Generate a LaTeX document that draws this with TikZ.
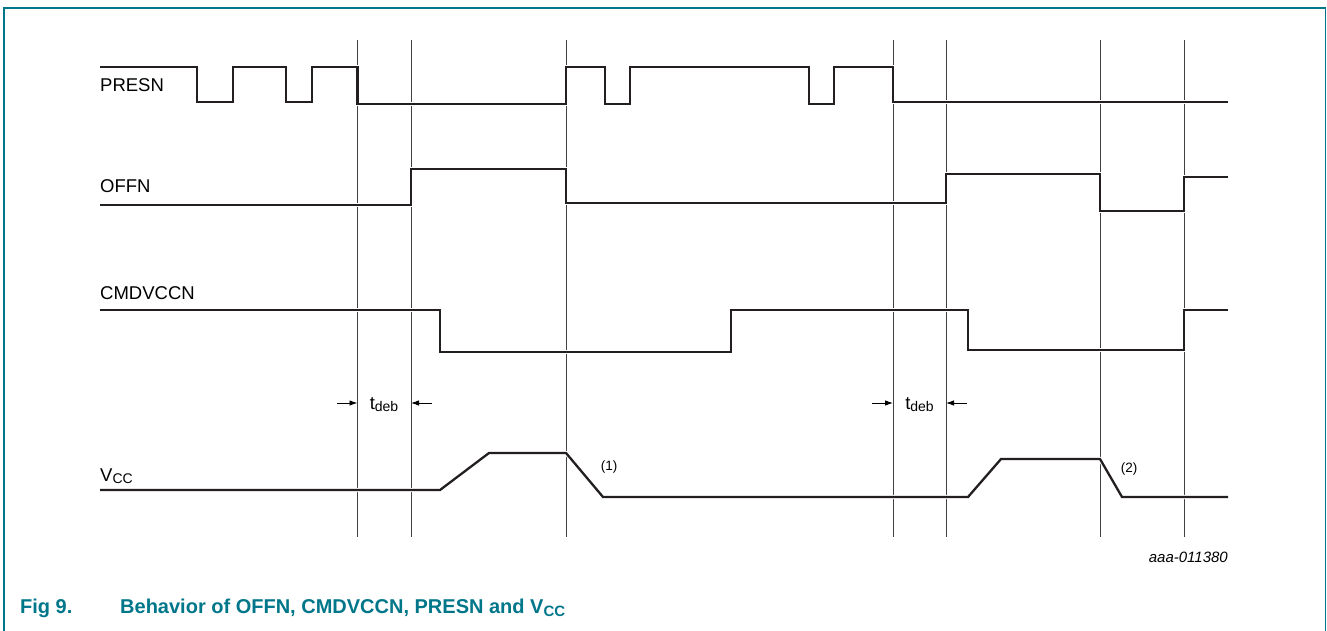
\documentclass[tikz,border=0pt]{standalone}
\usepackage{fontspec}
\setmainfont{Liberation Sans}
\usetikzlibrary{arrows.meta}
\definecolor{nxpteal}{RGB}{0,118,138}
\definecolor{wave}{RGB}{35,31,32}
\tikzset{
  sig/.style={draw=wave, line width=2.3pt, line join=miter,
     preaction={draw=white, line width=4.2pt}},
  guide/.style={draw=black!75, line width=0.8pt},
  lbl/.style={anchor=base west, inner sep=0pt, font=\fontsize{18.5}{20}\selectfont},
  note/.style={inner sep=0pt, font=\fontsize{13.5}{15}\selectfont},
  tarrow/.style={draw=black, line width=0.9pt, -{Latex[length=8pt,width=5.5pt]}},
  frame/.style={draw=nxpteal, line width=1.5pt},
}
\begin{document}
\begin{tikzpicture}[x=1pt,y=-1pt]
\useasboundingbox (0,0) rectangle (1327,631);
% frame
\draw[frame] (4,631) -- (4,8) -- (1325.5,8) -- (1325.5,631);
% guide lines
\foreach \gx in {357.5,411,566,893,946,1100,1184}{
  \draw[guide] (\gx,40) -- (\gx,537);
}
% labels
\node[lbl] (presn) at (100,92) {PRESN};
\node[lbl] (offn) at (100,193) {OFFN};
\node[lbl] (cmd) at (100,299) {CMDVCCN};
\node[lbl] (vcc) at (100,481) {V\raisebox{-0.28ex}{\fontsize{14}{15}\selectfont CC}};
% PRESN
\draw[sig] (100,67) -- (197,67) -- (197,102) -- (233,102) -- (233,67) -- (286,67)
  -- (286,102) -- (312,102) -- (312,67) -- (357.5,67) -- (357.5,104) -- (566,104)
  -- (566,67) -- (605,67) -- (605,104) -- (630,104) -- (630,67) -- (809,67)
  -- (809,104) -- (834,104) -- (834,67) -- (893,67) -- (893,102) -- (1228,102);
% OFFN
\draw[sig] (100,205) -- (411,205) -- (411,169) -- (566,169) -- (566,203) -- (946,203)
  -- (946,174) -- (1100,174) -- (1100,211) -- (1184,211) -- (1184,177) -- (1228,177);
% CMDVCCN
\draw[sig] (100,310) -- (440,310) -- (440,352) -- (731,352) -- (731,310) -- (968,310)
  -- (968,350) -- (1184,350) -- (1184,310) -- (1228,310);
% VCC
\draw[sig] (100,490) -- (440,490) -- (489,453) -- (566,453) -- (603,497) -- (968,497)
  -- (1001,459) -- (1100,459) -- (1122,497) -- (1228,497);
% tdeb 1
\coordinate (a1s) at (337,403); \coordinate (a1e) at (357.5,403);
\coordinate (a2s) at (432,403); \coordinate (a2e) at (411,403);
\draw[tarrow] (a1s) -- (a1e);
\draw[tarrow] (a2s) -- (a2e);
\node[lbl, anchor=base] (td1) at (384,409) {t\raisebox{-0.3ex}{\fontsize{14}{15}\selectfont deb}};
% tdeb 2
\coordinate (b1s) at (872,403); \coordinate (b1e) at (893,403);
\coordinate (b2s) at (967,403); \coordinate (b2e) at (946,403);
\draw[tarrow] (b1s) -- (b1e);
\draw[tarrow] (b2s) -- (b2e);
\node[lbl, anchor=base] (td2) at (919.5,409) {t\raisebox{-0.3ex}{\fontsize{14}{15}\selectfont deb}};
% notes
\node[note] (n1) at (609,467) {(1)};
\node[note] (n2) at (1129,469) {(2)};
\node[anchor=base east, inner sep=0pt, font=\fontsize{15}{17}\selectfont\itshape] (code) at (1228,562) {aaa-011380};
% caption
\node[anchor=base west, inner sep=0pt, text=nxpteal, font=\fontsize{20}{22}\selectfont\bfseries] (fig) at (20,613) {Fig 9.};
\node[anchor=base west, inner sep=0pt, text=nxpteal, font=\fontsize{20}{22}\selectfont\bfseries] (cap) at (120,613) {Behavior of OFFN, CMDVCCN, PRESN and V\raisebox{-0.3ex}{\fontsize{15}{16}\selectfont CC}};
\end{tikzpicture}
\end{document}
